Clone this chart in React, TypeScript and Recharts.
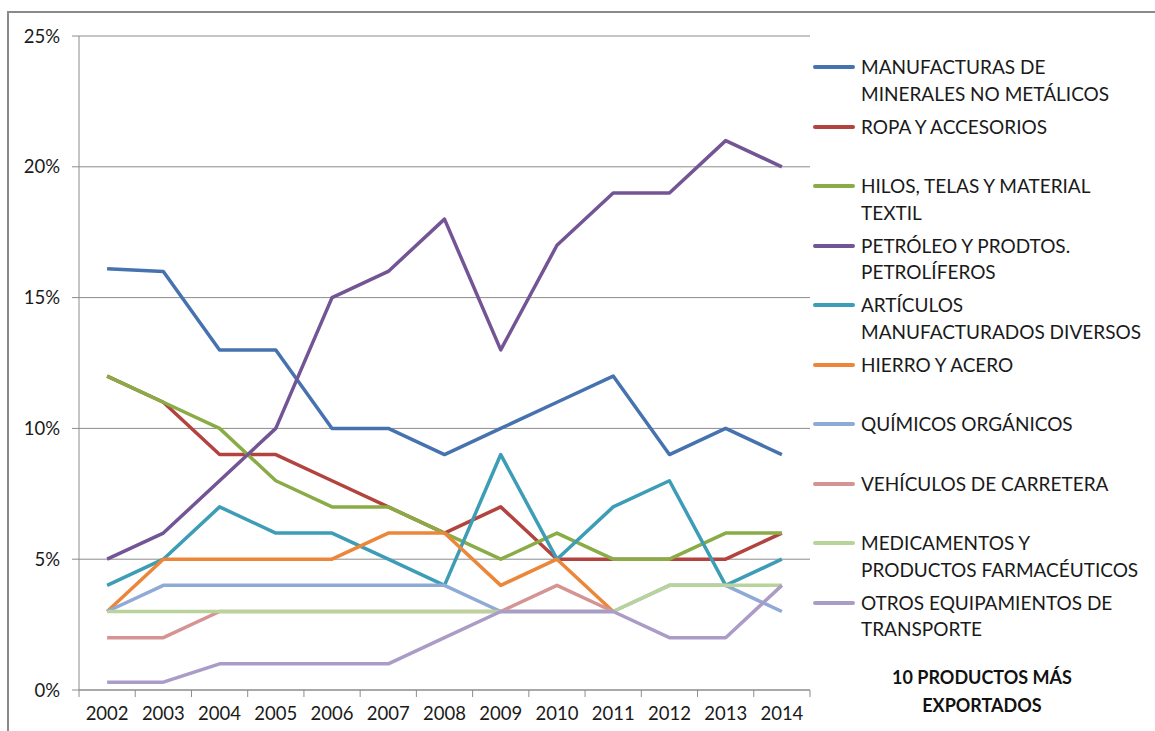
import React from 'react';
import { LineChart, Line, XAxis, YAxis, CartesianGrid } from 'recharts';

const years = ['2002', '2003', '2004', '2005', '2006', '2007', '2008', '2009', '2010', '2011', '2012', '2013', '2014'];

const manufacturas = [16.1, 16, 13, 13, 10, 10, 9, 10, 11, 12, 9, 10, 9];
const ropa = [12, 11, 9, 9, 8, 7, 6, 7, 5, 5, 5, 5, 6];
const hilos = [12, 11, 10, 8, 7, 7, 6, 5, 6, 5, 5, 6, 6];
const petroleo = [5, 6, 8, 10, 15, 16, 18, 13, 17, 19, 19, 21, 20];
const articulos = [4, 5, 7, 6, 6, 5, 4, 9, 5, 7, 8, 4, 5];
const hierro = [3, 5, 5, 5, 5, 6, 6, 4, 5, 3, null, null, null];
const quimicos = [3, 4, 4, 4, 4, 4, 4, 3, 3, 3, 4, 4, 3];
const vehiculos = [2, 2, 3, 3, 3, 3, 3, 3, 4, 3, null, null, null];
const medicamentos = [3, 3, 3, 3, 3, 3, 3, 3, 3, 3, 4, 4, 4];
const otros = [0.3, 0.3, 1, 1, 1, 1, 2, 3, 3, 3, 2, 2, 4];

const yTicks = [0, 5, 10, 15, 20, 25];

const seriesNames = [
  'MANUFACTURAS DE MINERALES NO METÁLICOS',
  'ROPA Y ACCESORIOS',
  'HILOS, TELAS Y MATERIAL TEXTIL',
  'PETRÓLEO Y PRODTOS. PETROLÍFEROS',
  'ARTÍCULOS MANUFACTURADOS DIVERSOS',
  'HIERRO Y ACERO',
  'QUÍMICOS ORGÁNICOS',
  'VEHÍCULOS DE CARRETERA',
  'MEDICAMENTOS Y PRODUCTOS FARMACÉUTICOS',
  'OTROS EQUIPAMIENTOS DE TRANSPORTE',
];
const legendLines = [
  ['MANUFACTURAS DE', 'MINERALES NO METÁLICOS'],
  ['ROPA Y ACCESORIOS'],
  ['HILOS, TELAS Y MATERIAL', 'TEXTIL'],
  ['PETRÓLEO Y PRODTOS.', 'PETROLÍFEROS'],
  ['ARTÍCULOS', 'MANUFACTURADOS DIVERSOS'],
  ['HIERRO Y ACERO'],
  ['QUÍMICOS ORGÁNICOS'],
  ['VEHÍCULOS DE CARRETERA'],
  ['MEDICAMENTOS Y', 'PRODUCTOS FARMACÉUTICOS'],
  ['OTROS EQUIPAMIENTOS DE', 'TRANSPORTE'],
];
const titleLines = ['10 PRODUCTOS MÁS', 'EXPORTADOS'];

const seriesValues = [manufacturas, ropa, hilos, petroleo, articulos, hierro, quimicos, vehiculos, medicamentos, otros];
const colors = ['#4673AF', '#B3433F', '#8AAC46', '#735595', '#3E9DB6', '#EC8639', '#8FAAD5', '#D69393', '#B9D49A', '#AA9CC7'];

const data = years.map((year, i) => {
  const row: Record<string, any> = { year };
  seriesValues.forEach((vals, s) => {
    row['s' + s] = vals[i];
  });
  return row;
});

const FONT = 'Lato, "Open Sans", sans-serif';
const AXIS = '#8c8c8c';

function YearTick(props: any) {
  const { x, y, payload, index } = props;
  const half = payload && payload.offset ? payload.offset : 0;
  const isLast = index === years.length - 1;
  return (
    <g>
      <line x1={x - half} x2={x - half} y1={y} y2={y + 7} stroke={AXIS} />
      {isLast && <line x1={x + half} x2={x + half} y1={y} y2={y + 7} stroke={AXIS} />}
      <text x={x} y={y + 30} textAnchor="middle" fontSize={18.5} fontFamily={FONT} fill="#1a1a1a">
        {payload.value}
      </text>
    </g>
  );
}

function ChartLegend() {
  return (
    <div style={{ position: 'absolute', left: 0, top: 0, width: 1155, height: 731, pointerEvents: 'none' }}>
      {legendLines.map((lines, i) => {
        const cy = 67 + i * 59.5;
        return (
          <div key={i}>
            <div
              style={{
                position: 'absolute',
                left: 813,
                top: cy - 2,
                width: 42,
                height: 4,
                borderRadius: 2,
                background: colors[i],
              }}
            />
            {lines.map((t, j) => (
              <div
                key={j}
                style={{
                  position: 'absolute',
                  left: 861,
                  top: cy - 13 + j * 26.5,
                  height: 26,
                  lineHeight: '26px',
                  fontSize: 19,
                  fontFamily: FONT,
                  color: '#1a1a1a',
                  whiteSpace: 'nowrap',
                }}
              >
                {t}
              </div>
            ))}
          </div>
        );
      })}
      {titleLines.map((t, j) => (
        <div
          key={'t' + j}
          style={{
            position: 'absolute',
            left: 882,
            width: 200,
            textAlign: 'center',
            top: 664 + j * 28,
            lineHeight: '26px',
            fontSize: 18,
            fontWeight: 700,
            fontFamily: FONT,
            color: '#111',
            whiteSpace: 'nowrap',
          }}
        >
          {t}
        </div>
      ))}
    </div>
  );
}

export default function App() {
  return (
    <div style={{ position: 'absolute', left: 0, top: 0, width: 1155, height: 731, background: '#fff', overflow: 'hidden' }}>
      <div
        style={{
          position: 'absolute',
          left: 7,
          top: 11,
          width: 1160,
          height: 740,
          borderLeft: '2px solid #8a8a8a',
          borderTop: '2px solid #8a8a8a',
        }}
      />
      <div style={{ position: 'absolute', left: 0, top: 0 }}>
        <LineChart width={1155} height={731} data={data} margin={{ top: 36, right: 345, bottom: 11, left: 19 }}>
          <CartesianGrid vertical={false} stroke={AXIS} strokeWidth={1} />
          <XAxis
            dataKey="year"
            scale="band"
            height={30}
            tickLine={false}
            tickSize={0}
            tickMargin={0}
            axisLine={{ stroke: AXIS }}
            tick={<YearTick />}
            interval={0}
          />
          <YAxis
            domain={[0, 25]}
            ticks={yTicks}
            tickFormatter={(v: number) => `${v}%`}
            width={60}
            tickSize={7}
            tickMargin={12}
            axisLine={{ stroke: AXIS }}
            tickLine={{ stroke: AXIS }}
            tick={{ fontSize: 18.5, fontFamily: FONT, fill: '#1a1a1a' }}
            interval={0}
          />
          {seriesNames.map((name, i) => (
            <Line
              key={name}
              type="linear"
              dataKey={'s' + i}
              name={name}
              stroke={colors[i]}
              strokeWidth={3.5}
              dot={false}
              activeDot={false}
              isAnimationActive={false}
              strokeLinejoin="round"
            />
          ))}
        </LineChart>
      </div>
      <ChartLegend />
    </div>
  );
}
